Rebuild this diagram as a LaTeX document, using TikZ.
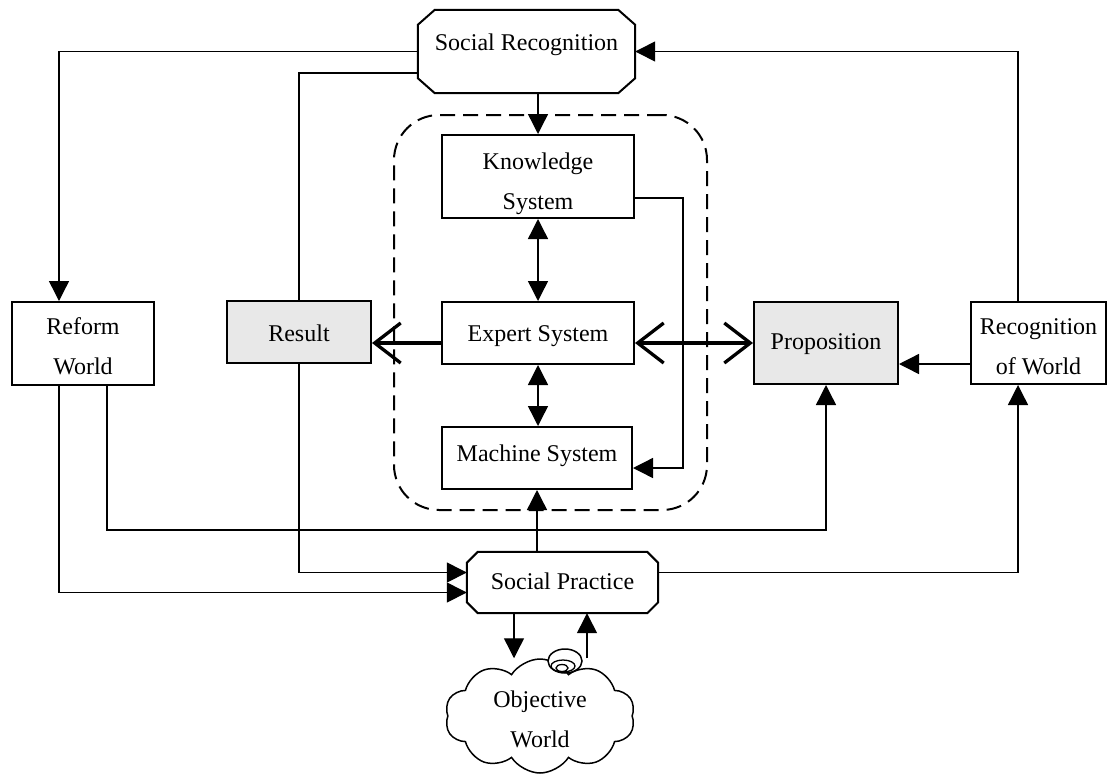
\documentclass[tikz,border=0pt]{standalone}
\usepackage{fontspec}
\setmainfont{Liberation Serif}
\usetikzlibrary{arrows.meta,shapes.symbols}
\definecolor{boxgray}{RGB}{232,232,232}

% octagonal outline round a rectangular node: #1 node, #2 and #3 the corner cuts
\newcommand{\chamferoutline}[3]{%
  \draw[line width=2pt] ([xshift=#2]#1.north west) -- ([xshift=-#2]#1.north east)
    -- ([yshift=-#3]#1.north east) -- ([yshift=#3]#1.south east)
    -- ([xshift=-#2]#1.south east) -- ([xshift=#2]#1.south west)
    -- ([yshift=#3]#1.south west) -- ([yshift=-#3]#1.north west) -- cycle;}

\begin{document}
\begin{tikzpicture}[x=1pt,y=-1pt,
  every node/.style={font=\fontsize{24}{40}\selectfont, align=center, inner sep=0pt},
  sysbox/.style={draw, line width=2pt, rectangle},
  graybox/.style={sysbox, fill=boxgray},
  hubbox/.style={rectangle, fill=white},
  groupbox/.style={draw, line width=2pt, rounded corners=45pt,
    dash pattern=on 15pt off 8pt},
  >={Triangle[length=20pt,width=20pt]},
  conn/.style={line width=1.4pt},
  thinconn/.style={line width=1.1pt},
  barbline/.style={line width=3.3pt, line cap=round,
    arrows={-Straight Barb[length=26pt,width=40pt]}},
  barbboth/.style={line width=3.3pt, line cap=round,
    arrows={Straight Barb[length=26pt,width=40pt]-Straight Barb[length=26pt,width=40pt]}}
]
\useasboundingbox (0,0) rectangle (1108,777);

% dashed frame round the three systems
\node[groupbox, minimum width=313pt, minimum height=395pt] (core) at (550.5,312.5) {};

% boxes
\node[hubbox, minimum width=217pt, minimum height=83pt] (sr) at (526.5,51.5) {};
\chamferoutline{sr}{17pt}{15pt}
\node (srtext) at ([yshift=7pt]sr.center) {Social Recognition};

\node[sysbox, minimum width=192pt, minimum height=83pt] (ks) at (538,176.5) {};
\node (kstext) at ([yshift=-7pt]ks.center) {Knowledge\\System};

\node[sysbox, minimum width=192pt, minimum height=62pt] (es) at (538,333) {};
\node (estext) at ([yshift=-3pt]es.center) {Expert System};

\node[sysbox, minimum width=190pt, minimum height=62pt] (ms) at (537,458) {};
\node (mstext) at ([yshift=2pt]ms.center) {Machine System};

\node[graybox, minimum width=144pt, minimum height=62pt] (res) at (299,332) {};
\node (restext) at ([yshift=-1pt]res.center) {Result};

\node[graybox, minimum width=144pt, minimum height=82pt] (prop) at (826,343) {};
\node (proptext) at ([yshift=-1pt]prop.center) {Proposition};

\node[sysbox, minimum width=142pt, minimum height=83pt] (rw) at (83,343.5) {};
\node (rwtext) at ([yshift=-3pt]rw.center) {Reform\\World};

\node[sysbox, minimum width=135pt, minimum height=82pt] (rec) at (1038.5,343) {};
\node (rectext) at ([yshift=-4pt]rec.center) {Recognition\\of World};

\node[hubbox, minimum width=191pt, minimum height=61pt] (sp) at (562.5,582.5) {};
\chamferoutline{sp}{11pt}{11pt}
\node (sptext) at ([yshift=1pt]sp.center) {Social Practice};

\node[cloud, draw, line width=1.5pt, cloud puffs=10, cloud puff arc=115,
  minimum width=190pt, minimum height=114pt] (ow) at (540,716) {};
\node (owtext) at ([yshift=-3pt]ow.center) {Objective\\World};
% curled lobe on top of the cloud
\draw[line width=1.5pt, fill=white] (565,661) ellipse [x radius=17, y radius=12];
\draw[line width=1.3pt] (563,666) ellipse [x radius=12, y radius=6];
\draw[line width=1.3pt] (562,668) ellipse [x radius=6, y radius=3.5];

% helper points
\coordinate (srlow) at ([yshift=-21.5pt]sr.west);
\coordinate (rwinL) at ([xshift=-24pt]rw.north);
\coordinate (rwoutL) at ([xshift=-24pt]rw.south);
\coordinate (rwoutR) at ([xshift=24pt]rw.south);
\coordinate (spinhigh) at ([yshift=10pt]sp.west);
\coordinate (spinlow) at ([yshift=-10pt]sp.west);
\coordinate (spout) at ([yshift=10pt]sp.east);
\coordinate (recin) at ([xshift=-20.5pt]rec.south);
\coordinate (recout) at ([xshift=-20.5pt]rec.north);
\coordinate (bus) at (0,530);
\coordinate (ksout) at ([yshift=-21.5pt]ks.east);
\coordinate (msin) at ([yshift=-10pt]ms.east);
\coordinate (kmbend) at (683,0);

% connectors inside the frame
\draw[conn,->] (sr.south -| ks.north) -- (ks.north);
\draw[conn,<->] (ks.south) -- (ks.south |- es.north);
\draw[conn,<->] (es.south) -- (es.south |- ms.north);
\draw[conn,->] (ksout) -| (kmbend |- msin) -- (msin);
\draw[barbline] (es.west |- prop.center) -- (res.east |- prop.center);
\draw[barbboth] (es.east |- prop.center) -- (prop.west);

% outer loop
\draw[thinconn] (res.north) |- (srlow);
\draw[conn,->] (sr.west) -| (rwinL);
\draw[conn,->] (rwoutL) |- (spinlow);
\draw[conn,->] (res.south) |- (spinhigh);
\draw[conn,->] (rwoutR) |- (bus -| prop.south) -- (prop.south);
\draw[conn,->] (spout) -| (recin);
\draw[conn,->] (recout) |- (sr.east);
\draw[conn,->] ([yshift=-21pt]rec.west) -- ([yshift=-21pt]prop.east);
\draw[conn,->] (sp.north -| ms.south) -- (ms.south);
\draw[conn,->] ([xshift=-48.5pt]sp.south) -- ([xshift=-26pt]ow.north);
\draw[conn,->] ([xshift=47pt]ow.north) -- ([xshift=24.5pt]sp.south);
\end{tikzpicture}
\end{document}
